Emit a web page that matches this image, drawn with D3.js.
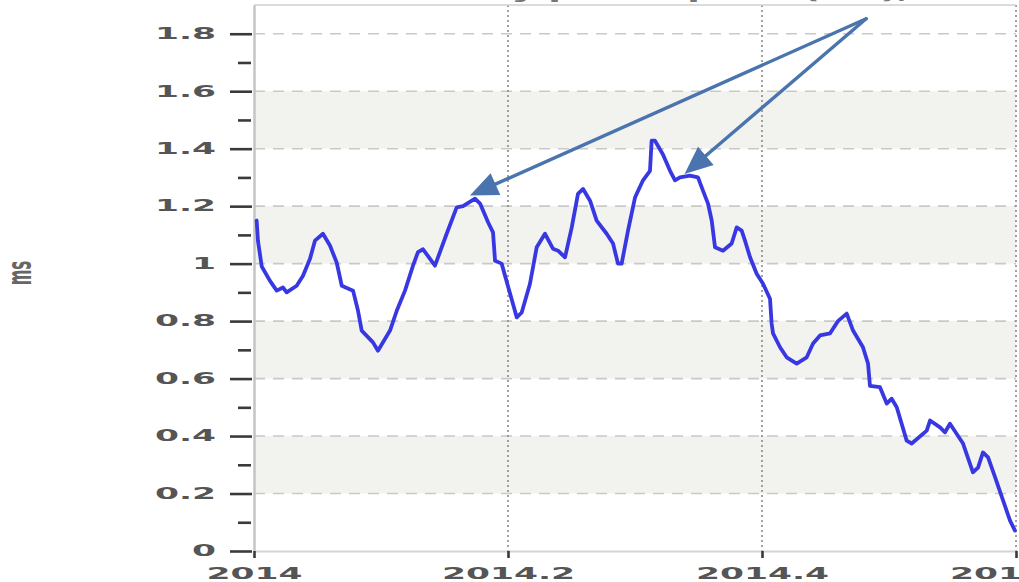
<!DOCTYPE html>
<html>
<head>
<meta charset="utf-8">
<script src="https://cdn.jsdelivr.net/npm/d3@7"></script>
<style>
  html, body { margin: 0; padding: 0; background: #fff; overflow: hidden; }
  svg { display: block; }
</style>
</head>
<body>
<svg id="chart" width="1019" height="582"></svg>
<script>
// ---- data ----
const years = [
  2014.0021, 2014.0031, 2014.0061, 2014.0126, 2014.0179, 2014.0228, 2014.0257, 2014.0336,
  2014.0386, 2014.0441, 2014.0480, 2014.0543, 2014.0598, 2014.0651, 2014.0691, 2014.0780,
  2014.0819, 2014.0848, 2014.0937, 2014.0976, 2014.1071, 2014.1124, 2014.1189, 2014.1252,
  2014.1291, 2014.1331, 2014.1425, 2014.1517, 2014.1596, 2014.1646, 2014.1740, 2014.1780,
  2014.1843, 2014.1882, 2014.1898, 2014.1950, 2014.2016, 2014.2069, 2014.2108, 2014.2173,
  2014.2226, 2014.2291, 2014.2354, 2014.2394, 2014.2449, 2014.2502, 2014.2551, 2014.2591,
  2014.2646, 2014.2698, 2014.2777, 2014.2827, 2014.2866, 2014.2895, 2014.2945, 2014.3000,
  2014.3063, 2014.3118, 2014.3131, 2014.3157, 2014.3220, 2014.3276, 2014.3315, 2014.3354,
  2014.3433, 2014.3496, 2014.3535, 2014.3575, 2014.3604, 2014.3630, 2014.3693, 2014.3761,
  2014.3801, 2014.3840, 2014.3866, 2014.3906, 2014.3958, 2014.4008, 2014.4063, 2014.4076,
  2014.4087, 2014.4142, 2014.4194, 2014.4273, 2014.4352, 2014.4402, 2014.4457, 2014.4535,
  2014.4598, 2014.4667, 2014.4717, 2014.4795, 2014.4835, 2014.4850, 2014.4929, 2014.4982,
  2014.5021, 2014.5061, 2014.5139, 2014.5179, 2014.5297, 2014.5323, 2014.5402, 2014.5441,
  2014.5480, 2014.5583, 2014.5661, 2014.5701, 2014.5740, 2014.5780, 2014.5835, 2014.5898,
  2014.5953, 2014.5992
];
const values = [
  1.150, 1.080, 0.990, 0.940, 0.906, 0.917, 0.900, 0.923,
  0.958, 1.017, 1.080, 1.104, 1.063, 1.004, 0.923, 0.906,
  0.836, 0.767, 0.726, 0.697, 0.767, 0.836, 0.906, 0.993,
  1.040, 1.050, 0.993, 1.104, 1.196, 1.200, 1.226, 1.209,
  1.144, 1.109, 1.010, 1.000, 0.896, 0.813, 0.830, 0.930,
  1.057, 1.104, 1.052, 1.045, 1.022, 1.126, 1.243, 1.260,
  1.219, 1.150, 1.104, 1.070, 1.000, 1.000, 1.115, 1.230,
  1.290, 1.323, 1.428, 1.428, 1.380, 1.323, 1.290, 1.300,
  1.306, 1.300, 1.254, 1.209, 1.150, 1.057, 1.045, 1.070,
  1.126, 1.115, 1.080, 1.022, 0.965, 0.930, 0.878, 0.791,
  0.757, 0.709, 0.674, 0.652, 0.674, 0.722, 0.750, 0.757,
  0.800, 0.826, 0.767, 0.709, 0.652, 0.575, 0.570, 0.513,
  0.530, 0.500, 0.384, 0.374, 0.419, 0.454, 0.430, 0.413,
  0.443, 0.374, 0.274, 0.290, 0.343, 0.326, 0.257, 0.176,
  0.106, 0.071
];
const yMajorTicks = [0, 0.2, 0.4, 0.6, 0.8, 1, 1.2, 1.4, 1.6, 1.8];
const yMinorTicks = [0.1, 0.3, 0.5, 0.7, 0.9, 1.1, 1.3, 1.5, 1.7];
const yTickLabels = ["0", "0.2", "0.4", "0.6", "0.8", "1", "1.2", "1.4", "1.6", "1.8"];
const xTicks = [2014, 2014.2, 2014.4, 2014.6];
const xTickLabels = ["2014", "2014.2", "2014.4", "2014.6"];
const bands = [[0.2, 0.4], [0.6, 0.8], [1.0, 1.2], [1.4, 1.6]];
const arrowFrom = [2014.482, 1.852];
const arrowTargets = [[2014.170, 1.237], [2014.339, 1.312]];
const yLabel = "ms";
const titleText = "Mean disk write latency per request (ms), rolling 7 day average, by quarter";

// ---- layout ----
const svg = d3.select("#chart");
const L = 254, R = 1016, T = 5, B = 551;
const sx = 2.3; // horizontal stretch of text in the reference
const x = d3.scaleLinear().domain([2014, 2014.6]).range([L, R]);
const y = d3.scaleLinear().domain([0, 1.9]).range([B, T]);
const font = "'DejaVu Sans', sans-serif";

// title (cut off at the top edge, as in the reference)
svg.append("text")
  .attr("transform", `translate(40,-1) scale(${sx},1)`)
  .attr("font-family", font).attr("font-size", 16).attr("font-weight", "bold")
  .attr("fill", "#777").text(titleText);

// background bands
svg.append("g").selectAll("rect").data(bands).join("rect")
  .attr("x", L).attr("width", R - L)
  .attr("y", d => y(d[1])).attr("height", d => y(d[0]) - y(d[1]))
  .attr("fill", "#f2f2ef");

// horizontal dashed grid
svg.append("g").selectAll("line").data(yMajorTicks.filter(v => v > 0)).join("line")
  .attr("x1", L).attr("x2", R).attr("y1", d => y(d)).attr("y2", d => y(d))
  .attr("stroke", "#c9c9c9").attr("stroke-width", 1.6).attr("stroke-dasharray", "11,8");

// vertical dotted grid
svg.append("g").selectAll("line").data(xTicks.slice(1)).join("line")
  .attr("x1", d => x(d)).attr("x2", d => x(d)).attr("y1", T).attr("y2", B)
  .attr("stroke", "#8a8a8a").attr("stroke-width", 1.6).attr("stroke-dasharray", "2,3");

// top border
svg.append("line").attr("x1", L).attr("x2", R).attr("y1", T).attr("y2", T)
  .attr("stroke", "#d0d0d0").attr("stroke-width", 1.5);

// y axis (major)
const yAxis = svg.append("g").attr("transform", `translate(${L - 2},0)`)
  .call(d3.axisLeft(y).tickValues(yMajorTicks).tickSize(22).tickSizeOuter(0)
    .tickFormat((d, i) => yTickLabels[i]));
yAxis.select(".domain").attr("stroke", "#c4c4c4").attr("stroke-width", 2.5)
  .attr("transform", "translate(2,0)");
yAxis.selectAll(".tick line").attr("stroke", "#3a3a3a").attr("stroke-width", 2.6);
yAxis.selectAll(".tick text")
  .attr("x", -36 / sx).attr("transform", `scale(${sx},1)`)
  .attr("font-family", font).attr("font-size", 15).attr("font-weight", "bold")
  .attr("fill", "#555");

// y axis (minor)
const yMinor = svg.append("g").attr("transform", `translate(${L - 3},0)`)
  .call(d3.axisLeft(y).tickValues(yMinorTicks).tickSize(13).tickSizeOuter(0).tickFormat(""));
yMinor.select(".domain").remove();
yMinor.selectAll(".tick line").attr("stroke", "#3a3a3a").attr("stroke-width", 2.6);

// x axis
const xAxis = svg.append("g").attr("transform", `translate(0,${B})`)
  .call(d3.axisBottom(x).tickValues(xTicks).tickSize(7).tickSizeOuter(0)
    .tickFormat((d, i) => xTickLabels[i]));
xAxis.select(".domain").attr("stroke", "#d4d4d4").attr("stroke-width", 2);
xAxis.selectAll(".tick line").attr("stroke", "#3a3a3a").attr("stroke-width", 2.6);
xAxis.selectAll(".tick text")
  .attr("y", 17).attr("x", 0).attr("transform", `scale(${sx},1)`)
  .attr("font-family", font).attr("font-size", 15).attr("font-weight", "bold")
  .attr("fill", "#555");

// y label
svg.append("text")
  .attr("transform", `translate(31,273) scale(${sx},1) rotate(-90)`)
  .attr("text-anchor", "middle")
  .attr("font-family", font).attr("font-size", 15).attr("font-weight", "bold")
  .attr("fill", "#666").text(yLabel);

// series line
const pts = years.map((t, i) => [t, values[i]]);
svg.append("path").datum(pts)
  .attr("d", d3.line().x(d => x(d[0])).y(d => y(d[1])))
  .attr("fill", "none").attr("stroke", "#3838e2").attr("stroke-width", 3.8)
  .attr("stroke-linejoin", "round").attr("stroke-linecap", "round");

// annotation arrows
const arrowColor = "#4a74ad";
const ax0 = x(arrowFrom[0]), ay0 = y(arrowFrom[1]);
const ag = svg.append("g");
arrowTargets.forEach(t => {
  const tx = x(t[0]), ty = y(t[1]);
  const dx = tx - ax0, dy = ty - ay0, len = Math.hypot(dx, dy);
  const ux = dx / len, uy = dy / len;
  const hl = 28, hw = 12;
  const bx = tx - ux * hl, by = ty - uy * hl;
  ag.append("line").attr("x1", ax0).attr("y1", ay0).attr("x2", bx).attr("y2", by)
    .attr("stroke", arrowColor).attr("stroke-width", 3.4).attr("stroke-linecap", "round");
  ag.append("path")
    .attr("d", `M${tx},${ty}L${bx - uy * hw},${by + ux * hw}L${bx + uy * hw},${by - ux * hw}Z`)
    .attr("fill", arrowColor);
});
</script>
</body>
</html>
